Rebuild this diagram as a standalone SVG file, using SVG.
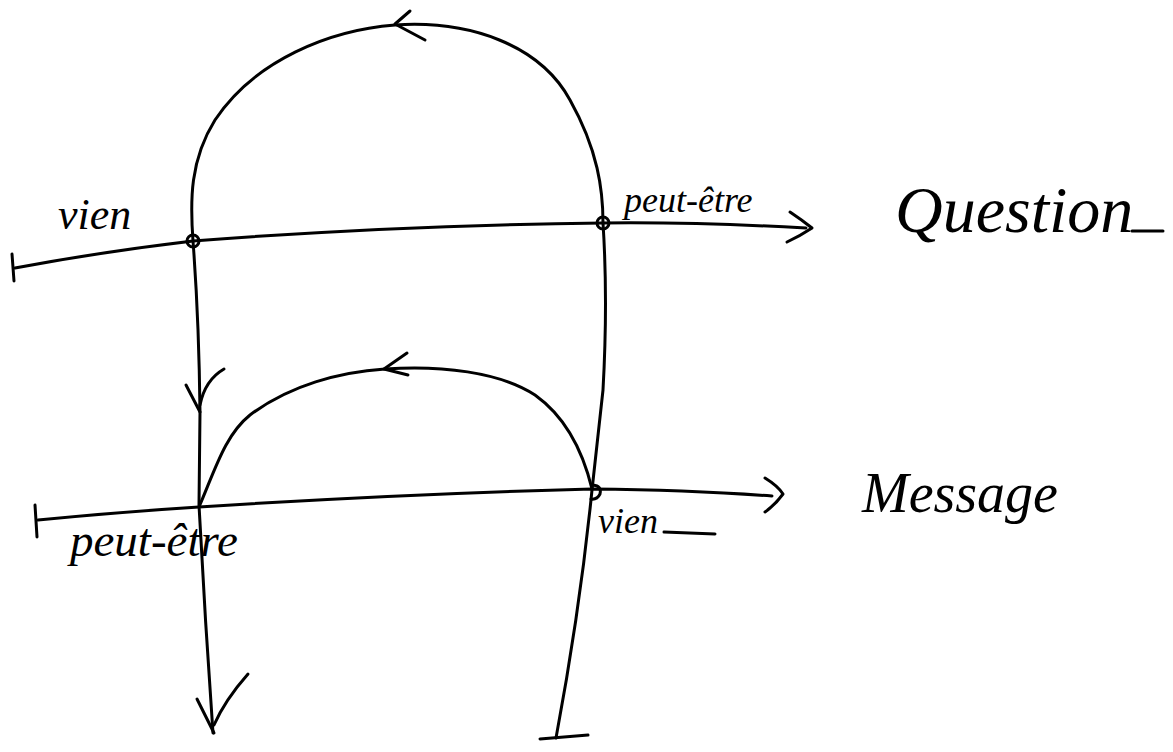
<svg xmlns="http://www.w3.org/2000/svg" width="1173" height="752" viewBox="0 0 1173 752">
<style>
.s{fill:none;stroke:#000;stroke-width:3;stroke-linecap:round;stroke-linejoin:round}
.t{font-family:"Liberation Serif",serif;font-style:italic;fill:#000}
</style>
<rect width="1173" height="752" fill="#fff"/>
<g id="connectors">
<path class="s" d="M15,268 Q100,252 193,241 Q400,225 603,223 Q700,222 806,228"/>
<path class="s" d="M12,254 L14,281"/>
<path class="s" d="M790,212 Q802,220 812,228 Q800,236 787,242"/>
<path class="s" d="M193,241 C190,200 190,160 215,120 C255,60 330,30 395,25 C470,20 540,45 570,100 C598,150 603,190 603,223"/>
<path class="s" d="M410,11 L395,24 L425,40"/>
<path class="s" d="M193,241 Q199,320 200,412 L199,505 Q205,620 213,733"/>
<path class="s" d="M186,385 L200,412 M200,405 Q205,380 224,369"/>
<path class="s" d="M197,699 L214,733 M214,725 Q225,700 248,674"/>
<path class="s" d="M603,223 Q608,300 603,390 L592,490 Q580,610 556,738"/>
<path class="s" d="M540,739 Q565,737 588,735"/>
<path class="s" d="M38,520 Q120,512 199,507 Q400,494 592,489 Q690,490 772,496"/>
<path class="s" d="M35,505 L37,537"/>
<path class="s" d="M765,478 Q778,486 783,494 Q775,505 765,512"/>
<path class="s" d="M199,507 C215,470 225,435 250,415 C290,385 340,372 385,369 C440,365 500,372 535,395 C570,420 585,460 592,489"/>
<path class="s" d="M407,353 L384,369 L408,375"/>
<circle class="s" cx="193" cy="241" r="6"/>
<circle class="s" cx="603" cy="223" r="6"/>
<path class="s" d="M593,485 Q602,486 600,494 Q597,500 591,499"/>
</g>
<g id="label-vien-top"><text class="t" x="58" y="229" font-size="44">vien</text></g>
<g id="label-peutetre-top"><text class="t" x="624" y="212" font-size="36">peut-être</text></g>
<g id="label-question"><text class="t" x="895" y="232" font-size="66">Question</text><path class="s" d="M1132,231 L1163,231" stroke-width="2"/></g>
<g id="label-peutetre-bottom"><text class="t" x="70" y="556" font-size="47">peut-être</text></g>
<g id="label-vien-bottom"><text class="t" x="598" y="533" font-size="36">vien</text><path class="s" d="M664,532 L715,534"/></g>
<g id="label-message"><text class="t" x="862" y="512" font-size="56">Message</text></g>
</svg>
